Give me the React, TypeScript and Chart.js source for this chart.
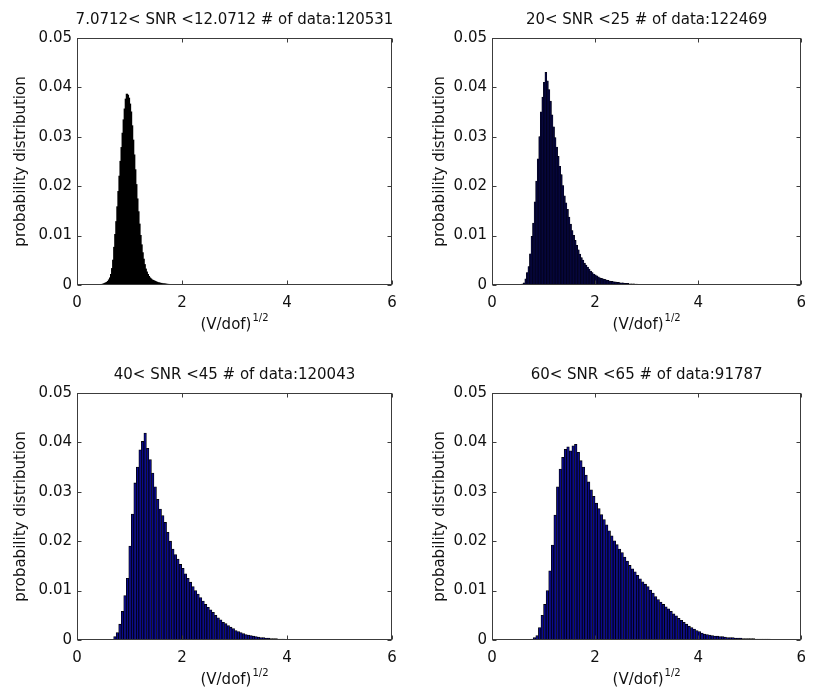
import React, { useEffect, useRef } from "react";
import { Chart, registerables } from "chart.js";

Chart.register(...registerables);

// ---------- data ----------
const PANEL_TITLES = [
  "7.0712< SNR <12.0712 # of data:120531",
  "20< SNR <25 # of data:122469",
  "40< SNR <45 # of data:120043",
  "60< SNR <65 # of data:91787",
];

const X_TICKS = [0, 2, 4, 6];
const X_TICK_LABELS = ["0", "2", "4", "6"];
const Y_TICKS = [0, 0.01, 0.02, 0.03, 0.04, 0.05];
const Y_TICK_LABELS = ["0", "0.01", "0.02", "0.03", "0.04", "0.05"];
const X_LABEL = "(V/dof)";
const X_LABEL_SUP = "1/2";
const Y_LABEL = "probability distribution";

// histogram bins: first bin left edge and bin width per panel
const BIN_START = [0.4, 0.55, 0.65, 0.75];
const BIN_WIDTH = [0.02, 0.03, 0.048, 0.05];

const HIST_SNR_7 = [
  0.00002, 0.00003, 0.00005, 0.00008, 0.00012, 0.0002, 0.0003, 0.0004, 0.0005, 0.0007,
  0.001, 0.0014, 0.0021, 0.0033, 0.005, 0.0076, 0.0102, 0.0128, 0.0158, 0.0189,
  0.022, 0.025, 0.0278, 0.0307, 0.0334, 0.0356, 0.0376, 0.0386, 0.0384, 0.0378,
  0.0366, 0.035, 0.0322, 0.0293, 0.0263, 0.0233, 0.0203, 0.0174, 0.0148, 0.0123,
  0.01, 0.0081, 0.0065, 0.0052, 0.0041, 0.0032, 0.0026, 0.0021, 0.0017, 0.0014,
  0.0012, 0.001, 0.0009, 0.0008, 0.0007, 0.0006, 0.0005, 0.0004, 0.0004, 0.0003,
  0.0003, 0.0002, 0.0002, 0.00018, 0.00015, 0.00012, 0.0001, 0.00009, 0.00008, 0.00006,
  0.00005, 0.00004, 0.00003, 0.00003, 0.00002,
];

const HIST_SNR_20 = [
  0.0001, 0.0002, 0.0004, 0.0012, 0.0025, 0.0037, 0.0063, 0.0098, 0.0125, 0.0168,
  0.021, 0.0255, 0.03, 0.035, 0.038, 0.041, 0.043, 0.0413, 0.0395, 0.0372,
  0.0344, 0.032, 0.0298, 0.0279, 0.026, 0.024, 0.0223, 0.0201, 0.018, 0.0166,
  0.0153, 0.0137, 0.0123, 0.011, 0.01, 0.009, 0.008, 0.0071, 0.0062, 0.0055,
  0.005, 0.0044, 0.004, 0.0036, 0.0032, 0.0028, 0.0025, 0.0022, 0.002, 0.0018,
  0.0016, 0.0014, 0.0013, 0.0012, 0.0011, 0.001, 0.0009, 0.0008, 0.0007, 0.0007,
  0.0006, 0.0006, 0.0005, 0.0005, 0.0004, 0.0004, 0.0004, 0.0003, 0.0003, 0.0003,
  0.0002, 0.0002, 0.0002, 0.0002, 0.00015, 0.00015, 0.00012, 0.0001, 0.0001, 0.00008,
  0.00006, 0.00005,
];

const HIST_SNR_40 = [
  0.0001, 0.0007, 0.0015, 0.0032, 0.0058, 0.009, 0.0125, 0.019, 0.0255, 0.0318,
  0.035, 0.0385, 0.0402, 0.0419, 0.0388, 0.0365, 0.0338, 0.031, 0.0285, 0.0265,
  0.0252, 0.0238, 0.0218, 0.02, 0.0184, 0.0173, 0.0164, 0.0153, 0.0145, 0.0134,
  0.0125, 0.0117, 0.0108, 0.01, 0.0093, 0.0086, 0.0079, 0.0072, 0.0066, 0.0061,
  0.0056, 0.005, 0.0045, 0.0041, 0.0036, 0.0033, 0.0029, 0.0026, 0.0023, 0.0019,
  0.0017, 0.0015, 0.0013, 0.0011, 0.001, 0.0009, 0.0008, 0.0007, 0.0006, 0.0005,
  0.0005, 0.0004, 0.0004, 0.0003, 0.0003, 0.0003, 0.0002, 0.0002, 0.0002, 0.00015,
  0.00012, 0.0001, 0.0001, 0.00008, 0.00007, 0.00006, 0.00005, 0.00004, 0.00004, 0.00003,
  0.00003, 0.00002, 0.00002, 0.00002, 0.00001,
];

const HIST_SNR_60 = [
  0.0002, 0.0005, 0.0009, 0.0025, 0.005, 0.0072, 0.01, 0.014, 0.0192, 0.0253,
  0.031, 0.0346, 0.037, 0.0386, 0.0391, 0.0383, 0.0393, 0.0396, 0.038, 0.0363,
  0.035, 0.0334, 0.032, 0.0304, 0.0291, 0.0277, 0.0266, 0.0254, 0.0244, 0.0233,
  0.0221, 0.0211, 0.0201, 0.0193, 0.0184, 0.0177, 0.0168, 0.016, 0.0151, 0.0144,
  0.0138, 0.0131, 0.0124, 0.0118, 0.0113, 0.0108, 0.0101, 0.0095, 0.0088, 0.0082,
  0.0077, 0.0072, 0.0067, 0.0063, 0.0058, 0.0053, 0.0049, 0.0044, 0.004, 0.0036,
  0.0032, 0.0028, 0.0025, 0.0022, 0.0019, 0.0017, 0.0014, 0.0012, 0.0011, 0.001,
  0.0009, 0.0008, 0.0008, 0.0007, 0.0007, 0.0006, 0.0005, 0.0005, 0.0005, 0.0004,
  0.0004, 0.0004, 0.0003, 0.0003, 0.0003, 0.0003, 0.0003, 0.0002, 0.0002, 0.0002,
  0.0002, 0.0002, 0.0002, 0.00015, 0.00015, 0.00012, 0.0001, 0.0001, 0.0001, 0.0001,
  0.00008,
];

const HISTS = [HIST_SNR_7, HIST_SNR_20, HIST_SNR_40, HIST_SNR_60];

// ---------- layout & style (not data) ----------
const W = 815;
const H = 691;
const PANEL_AREAS = [
  { left: 77, top: 38, right: 392, bottom: 285, yLabelOff: 56 },
  { left: 492, top: 38, right: 807, bottom: 285, yLabelOff: 52 },
  { left: 77, top: 393, right: 392, bottom: 640, yLabelOff: 56 },
  { left: 492, top: 393, right: 807, bottom: 640, yLabelOff: 52 },
];
const BAR_FILL = ["#000000", "rgb(6,6,60)", "rgb(10,10,140)", "rgb(10,10,140)"];
const BAR_BORDER_W = [0, 0.4, 0.8, 0.8];
const BAR_INFLATE = [0.6, 0.5, 0.33, 0.33];
const Y_AXIS_W = 60;
const X_AXIS_H = 40;
const FONT = '"DejaVu Sans", "Liberation Sans", Arial, sans-serif';

const framePlugin = {
  id: "matlabFrame",
  afterDraw(chart: any, _args: any, opts: any) {
    const { ctx, chartArea: a, scales } = chart;
    ctx.save();
    // box
    ctx.strokeStyle = "#3c3c3c";
    ctx.lineWidth = 1;
    const L = Math.round(a.left) + 0.5;
    const R = Math.round(a.right) - 0.5;
    const T = Math.round(a.top) + 0.5;
    const B = Math.round(a.bottom) - 0.5;
    ctx.strokeRect(L, T, R - L, B - T);
    // inward ticks
    ctx.beginPath();
    X_TICKS.forEach((v) => {
      const px = Math.round(scales.x.getPixelForValue(v)) + 0.5;
      ctx.moveTo(px, B);
      ctx.lineTo(px, B - 4);
      ctx.moveTo(px, T);
      ctx.lineTo(px, T + 4);
    });
    Y_TICKS.forEach((v) => {
      const py = Math.round(scales.y.getPixelForValue(v)) + 0.5;
      ctx.moveTo(L, py);
      ctx.lineTo(L + 4, py);
      ctx.moveTo(R, py);
      ctx.lineTo(R - 4, py);
    });
    ctx.stroke();

    ctx.fillStyle = "#111";
    const cx = (a.left + a.right) / 2;
    // title
    ctx.font = `15px ${FONT}`;
    ctx.textAlign = "center";
    ctx.textBaseline = "alphabetic";
    ctx.fillText(opts.title, cx, a.top - 14);

    // x label with superscript
    ctx.font = `15px ${FONT}`;
    const w1 = ctx.measureText(X_LABEL).width;
    ctx.font = `10px ${FONT}`;
    const w2 = ctx.measureText(X_LABEL_SUP).width;
    const gap = 1;
    const x0 = cx - (w1 + gap + w2) / 2;
    ctx.textAlign = "left";
    ctx.font = `15px ${FONT}`;
    ctx.fillText(X_LABEL, x0, a.bottom + 44);
    ctx.font = `10px ${FONT}`;
    ctx.fillText(X_LABEL_SUP, x0 + w1 + gap, a.bottom + 36);

    // y label
    ctx.font = `15px ${FONT}`;
    ctx.translate(a.left - opts.yLabelOff, (a.top + a.bottom) / 2);
    ctx.rotate(-Math.PI / 2);
    ctx.textAlign = "center";
    ctx.textBaseline = "middle";
    ctx.fillText(Y_LABEL, 0, 0);
    ctx.restore();
  },
};

function Panel({ index }: { index: number }) {
  const ref = useRef<HTMLCanvasElement>(null);
  useEffect(() => {
    const area = PANEL_AREAS[index];
    const vals = HISTS[index];
    const start = BIN_START[index];
    const width = BIN_WIDTH[index];
    const points = vals.map((y, i) => ({ x: start + width * (i + 0.5), y }));
    const chart = new Chart(ref.current as HTMLCanvasElement, {
      type: "bar",
      data: {
        datasets: [
          {
            data: points as any,
            backgroundColor: BAR_FILL[index],
            borderColor: "#000",
            borderWidth: BAR_BORDER_W[index],
            inflateAmount: BAR_INFLATE[index],
            barPercentage: 1,
            categoryPercentage: 1,
            borderSkipped: "bottom",
          } as any,
        ],
      },
      options: {
        responsive: false,
        devicePixelRatio: 1,
        animation: false,
        events: [],
        layout: {
          padding: {
            left: area.left - Y_AXIS_W,
            top: area.top,
            right: W - area.right,
            bottom: H - area.bottom - X_AXIS_H,
          },
        },
        plugins: {
          legend: { display: false },
          tooltip: { enabled: false },
          title: { display: false },
          matlabFrame: { title: PANEL_TITLES[index], yLabelOff: area.yLabelOff },
        } as any,
        scales: {
          x: {
            type: "linear",
            min: 0,
            max: 6,
            offset: false,
            grid: { display: false, drawTicks: false, offset: false },
            border: { display: false },
            afterBuildTicks: (s: any) => {
              s.ticks = X_TICKS.map((v) => ({ value: v }));
            },
            afterFit: (s: any) => {
              s.height = X_AXIS_H;
            },
            ticks: {
              autoSkip: false,
              maxRotation: 0,
              padding: 9,
              color: "#111",
              font: { family: FONT, size: 15 },
              callback: (_v: any, i: number) => X_TICK_LABELS[i],
            },
          },
          y: {
            type: "linear",
            min: 0,
            max: 0.05,
            grid: { display: false, drawTicks: false },
            border: { display: false },
            afterBuildTicks: (s: any) => {
              s.ticks = Y_TICKS.map((v) => ({ value: v }));
            },
            afterFit: (s: any) => {
              s.width = Y_AXIS_W;
            },
            ticks: {
              autoSkip: false,
              padding: 5,
              color: "#111",
              font: { family: FONT, size: 15 },
              callback: (_v: any, i: number) => Y_TICK_LABELS[i],
            },
          },
        },
      },
      plugins: [framePlugin as any],
    });
    return () => chart.destroy();
  }, [index]);
  return (
    <canvas
      ref={ref}
      width={W}
      height={H}
      style={{ position: "absolute", left: 0, top: 0, width: W, height: H }}
    />
  );
}

export default function App() {
  return (
    <div
      style={{
        position: "absolute",
        left: 0,
        top: 0,
        width: W,
        height: H,
        background: "#fff",
        overflow: "hidden",
      }}
    >
      {[0, 1, 2, 3].map((i) => (
        <Panel key={i} index={i} />
      ))}
    </div>
  );
}
